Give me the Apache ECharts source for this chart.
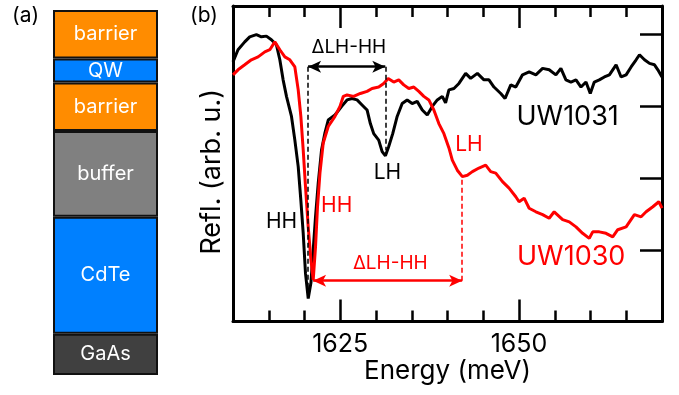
<!DOCTYPE html>
<html>
<head>
<meta charset="utf-8">
<script src="https://cdn.jsdelivr.net/npm/echarts@6/dist/echarts.min.js"></script>
<style>
html,body{margin:0;padding:0;background:#fff;}
#c{width:679px;height:395px;}
</style>
</head>
<body>
<div id="c"></div>
<script>
// ---------- Data ----------
const energy1031 = [1610.0,1610.7,1611.64,1612.34,1613.27,1613.97,1614.67,1615.37,1616.07,1616.55,1617.01,1617.48,1618.18,1618.65,1619.12,1619.49,1619.82,1620.14,1620.52,1620.9,1621.22,1621.54,1621.92,1622.38,1622.86,1623.32,1624.26,1625.2,1625.95,1626.65,1627.35,1628.05,1628.75,1629.21,1629.68,1630.38,1630.86,1631.32,1631.78,1632.34,1632.96,1633.66,1634.36,1635.06,1635.76,1636.47,1637.17,1637.87,1638.57,1639.27,1639.73,1640.2,1640.9,1641.6,1642.54,1643.24,1644.18,1645.1,1645.8,1646.5,1647.45,1648.05,1648.85,1649.55,1650.49,1651.42,1652.36,1653.3,1654.22,1655.16,1655.86,1656.56,1657.26,1657.97,1658.67,1659.37,1659.97,1660.53,1661.23,1661.94,1662.64,1663.58,1664.28,1664.98,1665.68,1666.38,1666.85,1667.55,1668.25,1668.95,1669.42,1670.0];
const refl1031 = [3.62,3.79,3.9,3.97,4.0,3.97,3.98,3.93,3.86,3.65,3.37,3.14,2.86,2.53,2.16,1.69,1.23,0.67,0.32,0.54,1.0,1.46,1.93,2.39,2.63,2.81,2.88,3.0,3.09,3.11,3.09,3.02,2.95,2.76,2.62,2.53,2.37,2.31,2.44,2.62,2.86,3.04,3.09,3.04,3.07,2.95,2.88,3.0,3.09,3.14,3.05,3.23,3.25,3.32,3.46,3.39,3.46,3.37,3.37,3.27,3.18,3.11,3.3,3.27,3.44,3.48,3.44,3.53,3.51,3.44,3.53,3.37,3.34,3.37,3.27,3.34,3.18,3.34,3.37,3.41,3.44,3.58,3.41,3.44,3.55,3.65,3.72,3.65,3.6,3.58,3.51,3.41];
const energy1030 = [1610.0,1610.7,1611.64,1612.57,1613.51,1614.45,1615.15,1615.85,1616.55,1617.25,1617.95,1618.65,1619.12,1619.49,1619.82,1620.14,1620.52,1620.9,1621.22,1621.54,1621.82,1622.16,1622.62,1623.32,1624.26,1624.96,1625.43,1625.95,1626.87,1627.81,1628.75,1629.45,1630.38,1631.08,1631.7,1632.48,1633.18,1633.88,1634.59,1635.29,1635.99,1636.69,1637.39,1638.09,1638.79,1639.5,1640.2,1640.67,1641.37,1642.08,1642.78,1643.48,1644.4,1645.34,1646.04,1646.75,1647.69,1648.61,1649.55,1650.01,1650.72,1651.42,1652.36,1653.3,1654.22,1654.92,1656.1,1657.03,1657.97,1658.9,1659.83,1660.31,1661.23,1662.17,1663.11,1663.81,1664.98,1666.14,1667.08,1667.78,1668.72,1669.56,1670.0];
const refl1030 = [3.44,3.51,3.58,3.65,3.69,3.76,3.79,3.9,3.79,3.69,3.65,3.55,3.23,2.86,2.39,1.88,1.32,0.86,0.58,1.04,1.6,2.07,2.49,2.72,2.86,3.0,3.14,3.16,3.14,3.18,3.21,3.25,3.27,3.32,3.39,3.34,3.37,3.3,3.25,3.27,3.21,3.14,3.09,2.95,2.76,2.62,2.42,2.25,2.11,2.02,2.04,2.09,2.14,2.18,2.09,2.07,1.95,1.86,1.74,1.67,1.72,1.58,1.53,1.49,1.44,1.53,1.42,1.39,1.32,1.23,1.16,1.25,1.25,1.23,1.18,1.28,1.32,1.49,1.46,1.53,1.6,1.67,1.58];

const xTickLabels = [1625, 1650];
const xMinorTicks = 5;
const yTicks = [1, 2, 3, 4];

// layer stack (bottom -> top), schematic thicknesses
const layerNames = ['GaAs', 'CdTe', 'buffer', 'barrier', 'QW', 'barrier'];
const layerThickness = [41, 116, 85, 48, 24, 48];

// annotation anchors in data units
const hhBlack = [1620.5, 0.34];
const lhBlack = [1631.3, 2.39];
const arrowBlackY = 3.554;
const hhRed = [1621.2, 0.57];
const lhRed = [1642.05, 2.02];

// ---------- Styles ----------
const layerColors = ['#404040', '#0080FF', '#808080', '#FF8C00', '#0080FF', '#FF8C00'];
const FONT = 'Inter';
const RED = '#FF0000';

const chart = echarts.init(document.getElementById('c'), null, {renderer: 'canvas'});

function textPoint(coord, text, color, size) {
  return {
    coord: coord, value: text,
    symbol: 'circle', symbolSize: 1, itemStyle: {color: 'rgba(0,0,0,0)'},
    label: {show: true, position: 'inside', formatter: text, color: color, fontSize: size, fontFamily: FONT}
  };
}

const layerSeries = layerNames.map((name, i) => ({
  type: 'bar', name: name + i, stack: 'layers', xAxisIndex: 4, yAxisIndex: 2,
  barWidth: '100%', silent: true,
  data: [layerThickness[i]],
  itemStyle: {color: layerColors[i], borderColor: '#111', borderWidth: 2},
  label: {show: true, position: 'inside', formatter: name, color: '#fff', fontSize: 20, fontFamily: FONT}
}));

const axisLineStyle = {show: true, lineStyle: {color: '#000', width: 3}};

const option = {
  animation: false,
  textStyle: {fontFamily: FONT},
  grid: [
    {left: 233, right: 17, top: 6, bottom: 73.5, show: false},
    {left: 53, width: 105, top: 10, bottom: 20, show: false}
  ],
  xAxis: [
    {type: 'value', gridIndex: 0, position: 'bottom', min: 1610, max: 1670, interval: xMinorTicks,
     axisLine: axisLineStyle,
     axisTick: {show: true, inside: true, length: 11, lineStyle: {color: '#000', width: 2.5}},
     axisLabel: {show: false}, splitLine: {show: false},
     name: 'Energy (meV)', nameLocation: 'middle', nameGap: 37,
     nameTextStyle: {fontSize: 26, color: '#000', fontFamily: FONT}},
    {type: 'value', gridIndex: 0, position: 'bottom', min: 1610, max: 1670,
     axisLine: {show: false},
     axisTick: {show: true, inside: true, length: 22, customValues: xTickLabels, lineStyle: {color: '#000', width: 2.5}},
     axisLabel: {show: true, customValues: xTickLabels, formatter: v => String(v), fontSize: 25, color: '#000', margin: 10, fontFamily: FONT},
     splitLine: {show: false}},
    {type: 'value', gridIndex: 0, position: 'top', min: 1610, max: 1670, interval: xMinorTicks,
     axisLine: axisLineStyle,
     axisTick: {show: true, inside: true, length: 11, lineStyle: {color: '#000', width: 2.5}},
     axisLabel: {show: false}, splitLine: {show: false}},
    {type: 'value', gridIndex: 0, position: 'top', min: 1610, max: 1670,
     axisLine: {show: false},
     axisTick: {show: true, inside: true, length: 22, customValues: xTickLabels, lineStyle: {color: '#000', width: 2.5}},
     axisLabel: {show: false}, splitLine: {show: false}},
    {type: 'category', gridIndex: 1, data: ['stack'], show: false}
  ],
  yAxis: [
    {type: 'value', gridIndex: 0, position: 'left', min: 0, max: 4.4,
     axisLine: axisLineStyle, axisTick: {show: false}, axisLabel: {show: false}, splitLine: {show: false},
     name: 'Refl. (arb. u.)', nameLocation: 'middle', nameGap: 8,
     nameTextStyle: {fontSize: 27, color: '#000', fontFamily: FONT, padding: [0, 16, 0, 0]}},
    {type: 'value', gridIndex: 0, position: 'right', min: 0, max: 4.4,
     axisLine: axisLineStyle,
     axisTick: {show: true, inside: true, length: 22, customValues: yTicks, lineStyle: {color: '#000', width: 2.5}},
     axisLabel: {show: false}, splitLine: {show: false}},
    {type: 'value', gridIndex: 1, min: 0, max: layerThickness.reduce((a, b) => a + b, 0), show: false}
  ],
  graphic: [
    {type: 'text', left: 12, top: 5, style: {text: '(a)', fontSize: 21, fill: '#000', fontFamily: FONT}},
    {type: 'text', left: 190, top: 5, style: {text: '(b)', fontSize: 21, fill: '#000', fontFamily: FONT}}
  ],
  series: [
    {
      type: 'line', name: 'UW1031', xAxisIndex: 0, yAxisIndex: 0,
      data: energy1031.map((e, i) => [e, refl1031[i]]),
      showSymbol: false, symbol: 'none', lineStyle: {color: '#000', width: 3}, silent: true, z: 3,
      markLine: {
        silent: true, animation: false, label: {show: false},
        data: [
          [{coord: [hhBlack[0], arrowBlackY], symbol: 'arrow', symbolSize: [9, 13]},
           {coord: [lhBlack[0], arrowBlackY], symbol: 'arrow', symbolSize: [9, 13]}],
          [{coord: [hhBlack[0], arrowBlackY], symbol: 'none', lineStyle: {type: [5, 3], width: 1.5}},
           {coord: hhBlack, symbol: 'none'}],
          [{coord: [lhBlack[0], arrowBlackY], symbol: 'none', lineStyle: {type: [5, 3], width: 1.5}},
           {coord: lhBlack, symbol: 'none'}]
        ],
        lineStyle: {color: '#000', width: 2.5, type: 'solid'}
      },
      markPoint: {
        silent: true, animation: false,
        data: [
          textPoint([1626.2, 3.83], 'ΔLH-HH', '#000', 19),
          textPoint([1616.8, 1.39], 'HH', '#000', 21),
          textPoint([1631.6, 2.07], 'LH', '#000', 21),
          textPoint([1656.8, 2.86], 'UW1031', '#000', 27)
        ]
      }
    },
    {
      type: 'line', name: 'UW1030', xAxisIndex: 0, yAxisIndex: 0,
      data: energy1030.map((e, i) => [e, refl1030[i]]),
      showSymbol: false, symbol: 'none', lineStyle: {color: RED, width: 3}, silent: true, z: 4,
      markLine: {
        silent: true, animation: false, label: {show: false},
        data: [
          [{coord: hhRed, symbol: 'arrow', symbolSize: [9, 13]},
           {coord: [lhRed[0], hhRed[1]], symbol: 'arrow', symbolSize: [9, 13]}],
          [{coord: [lhRed[0], hhRed[1]], symbol: 'none', lineStyle: {type: [5, 3], width: 1.5}},
           {coord: lhRed, symbol: 'none'}]
        ],
        lineStyle: {color: RED, width: 2.5, type: 'solid'}
      },
      markPoint: {
        silent: true, animation: false,
        data: [
          textPoint([1632.0, 0.81], 'ΔLH-HH', RED, 19),
          textPoint([1624.5, 1.62], 'HH', RED, 21),
          textPoint([1643.0, 2.46], 'LH', RED, 21),
          textPoint([1657.3, 0.90], 'UW1030', RED, 27)
        ]
      }
    }
  ].concat(layerSeries)
};

chart.setOption(option);
</script>
</body>
</html>
